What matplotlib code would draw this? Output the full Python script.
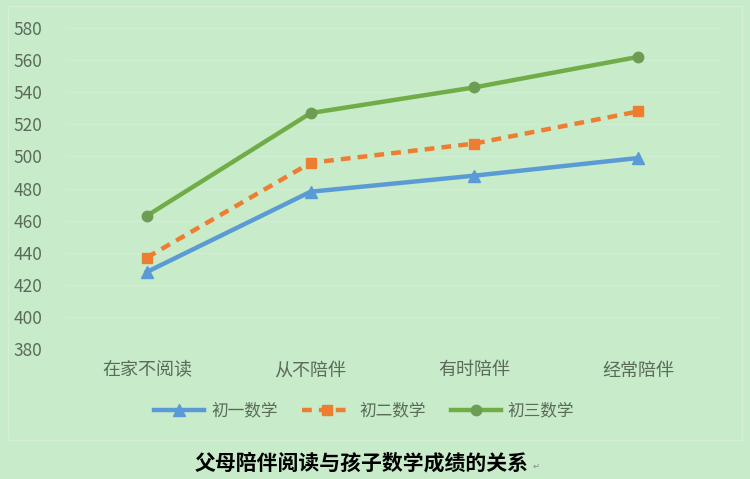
import matplotlib.pyplot as plt
from matplotlib.lines import Line2D

plt.rcParams['font.family'] = ['Noto Sans CJK SC', 'DejaVu Sans']

categories = ['在家不阅读', '从不陪伴', '有时陪伴', '经常陪伴']
grade1 = [428, 478, 488, 499]
grade2 = [437, 496, 508, 528]
grade3 = [463, 527, 543, 562]
series_names = ['初一数学', '初二数学', '初三数学']
title = '父母陪伴阅读与孩子数学成绩的关系'

bg = '#c8ebca'
txt = '#5a6b5a'

fig = plt.figure(figsize=(7.5, 4.79), dpi=100, facecolor=bg)
ax = fig.add_axes([65/750, 1-349/479, 655/750, 321/479])
ax.set_facecolor(bg)

x = range(len(categories))
ax.plot(x, grade1, color='#5b9bd5', lw=3.2, marker='^', ms=8, label=series_names[0], clip_on=False)
ax.plot(x, grade2, color='#ed7d31', lw=3.2, ls=(0, (2.2, 1.6)), marker='s', ms=7.5,
        label=series_names[1], clip_on=False)
ax.plot(x, grade3, color='#70ad47', lw=3.2, marker='o', ms=7.5, mfc='#6e9c52', mec='#6e9c52',
        label=series_names[2], clip_on=False)

ax.set_xlim(-0.5, 3.5)
ax.set_ylim(380, 580)
ax.set_yticks(range(380, 581, 20))
ax.set_xticks(list(x))
ax.set_xticklabels(categories)
ax.grid(axis='y', color='#d0eed1', lw=1)
ax.set_axisbelow(True)
for s in ax.spines.values():
    s.set_visible(False)
ax.tick_params(length=0, colors=txt)
ax.tick_params(axis='y', pad=16.5, labelsize=12.5)
ax.tick_params(axis='x', pad=9, labelsize=13)

leg = fig.legend(loc='center', bbox_to_anchor=(364/750, 1-411/479), ncol=3, frameon=False,
                 fontsize=12, handlelength=3.0, columnspacing=1.5, handletextpad=0.4)
for t in leg.get_texts():
    t.set_color(txt)

# chart box and separator above caption
box = '#d8ecd8'
fig.add_artist(Line2D([8/750, 8/750], [1-440/479, 1-6/479], color=box, lw=1))
fig.add_artist(Line2D([742/750, 742/750], [1-440/479, 1-6/479], color=box, lw=1))
fig.add_artist(Line2D([8/750, 742/750], [1-6/479, 1-6/479], color=box, lw=1))
fig.add_artist(Line2D([8/750, 742/750], [1-440/479, 1-440/479], color=box, lw=1))

fig.text(362/750, 1-463/479, title, ha='center', va='center', fontsize=15,
         fontweight='bold', color='black')
fig.text(536/750, 1-466/479, '↵', ha='center', va='center', fontsize=6, color='#888888')

fig.savefig('out.png', dpi=100, facecolor=bg)
